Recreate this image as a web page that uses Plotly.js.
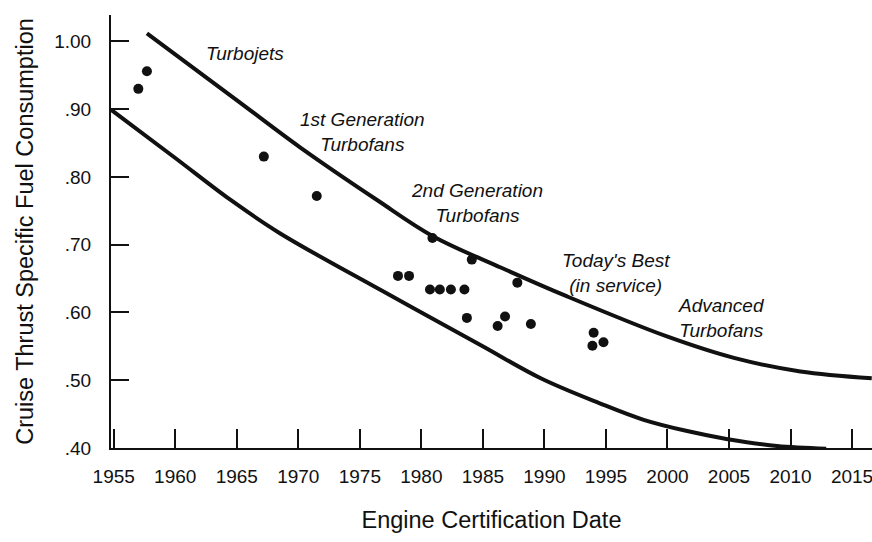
<!DOCTYPE html>
<html>
<head>
<meta charset="utf-8">
<script src="https://cdn.plot.ly/plotly-3.0.1.min.js"></script>
<style>html,body{margin:0;padding:0;background:#fff;}#chart{width:872px;height:542px;}</style>
</head>
<body>
<div id="chart"></div>
<script>
// Engine data points (certification year, cruise TSFC)
const engineYears = [1957.0, 1957.7, 1967.2, 1971.5, 1978.1, 1979.0, 1980.7, 1981.5, 1982.4, 1983.5, 1980.9, 1984.1, 1983.7, 1986.2, 1986.8, 1987.8, 1988.9, 1994.0, 1993.9, 1994.8];
const engineTsfc  = [0.930, 0.956, 0.830, 0.772, 0.654, 0.654, 0.634, 0.634, 0.634, 0.634, 0.710, 0.678, 0.592, 0.580, 0.594, 0.644, 0.583, 0.570, 0.551, 0.556];

// Upper bound curve
const upperYears = [1957.7, 1965.1, 1970.2, 1976.4, 1980.9, 1986.5, 1991.8, 1999.9, 2005.4, 2010.8, 2016.6];
const upperTsfc  = [1.012, 0.912, 0.843, 0.766, 0.713, 0.666, 0.624, 0.565, 0.533, 0.513, 0.503];

// Lower bound curve
const lowerYears = [1954.8, 1960.0, 1964.5, 1968.5, 1976.7, 1984.8, 1989.7, 1994.5, 1998.0, 2001.6, 2004.9, 2008.9, 2012.9];
const lowerTsfc  = [0.899, 0.828, 0.766, 0.717, 0.633, 0.552, 0.503, 0.466, 0.442, 0.425, 0.413, 0.403, 0.399];

// Axis ticks
const xTickVals = [1955, 1960, 1965, 1970, 1975, 1980, 1985, 1990, 1995, 2000, 2005, 2010, 2015];
const yTickVals = [0.40, 0.50, 0.60, 0.70, 0.80, 0.90, 1.00];
const yTickText = ['.40', '.50', '.60', '.70', '.80', '.90', '1.00'];

// Region labels
const labelTexts = ['Turbojets', '1st Generation<br>Turbofans', '2nd Generation<br>Turbofans', "Today's Best<br>(in service)", 'Advanced<br>Turbofans'];
const labelYears = [1965.7, 1975.2, 1984.5, 1995.8, 2004.4];
const labelTsfc  = [0.982, 0.866, 0.762, 0.659, 0.592];

const FONT = 'Liberation Sans, Arial, Helvetica, sans-serif';
const INK = '#111';

const traces = [
  {x: upperYears, y: upperTsfc, mode: 'lines', type: 'scatter',
   line: {color: INK, width: 4, shape: 'spline', smoothing: 1}, hoverinfo: 'skip', showlegend: false},
  {x: lowerYears, y: lowerTsfc, mode: 'lines', type: 'scatter',
   line: {color: INK, width: 4, shape: 'spline', smoothing: 1}, hoverinfo: 'skip', showlegend: false},
  {x: engineYears, y: engineTsfc, mode: 'markers', type: 'scatter',
   marker: {color: INK, size: 10}, showlegend: false, cliponaxis: false}
];

const annotations = labelTexts.map((t, i) => ({
  x: labelYears[i], y: labelTsfc[i], xref: 'x', yref: 'y',
  text: t, showarrow: false, align: 'center',
  font: {family: FONT, size: 19, color: INK, style: 'italic'}
}));

const layout = {
  width: 872, height: 542,
  margin: {l: 111, r: 0, t: 15, b: 94},
  paper_bgcolor: '#fff', plot_bgcolor: '#fff',
  font: {family: FONT, color: INK},
  xaxis: {
    range: [1954.78, 2016.62], showgrid: false, zeroline: false,
    showline: true, linecolor: INK, linewidth: 2,
    ticks: 'inside', ticklen: 19, tickwidth: 2, tickcolor: INK,
    tickvals: xTickVals, ticklabelstandoff: 10, ticklabeloverflow: 'allow',
    tickfont: {family: FONT, size: 19, color: INK},
    title: {text: 'Engine Certification Date', font: {family: FONT, size: 23.5, color: INK}, standoff: 26}
  },
  yaxis: {
    range: [0.40, 1.039], showgrid: false, zeroline: false,
    showline: true, linecolor: INK, linewidth: 2,
    ticks: 'inside', ticklen: 18, tickwidth: 2, tickcolor: INK,
    tickvals: yTickVals, ticktext: yTickText, ticklabelstandoff: 14,
    tickfont: {family: FONT, size: 19, color: INK},
    title: {text: 'Cruise Thrust Specific Fuel Consumption', font: {family: FONT, size: 23.5, color: INK}, standoff: 14}
  },
  annotations: annotations
};

Plotly.newPlot('chart', traces, layout, {staticPlot: true, displayModeBar: false});
</script>
</body>
</html>
